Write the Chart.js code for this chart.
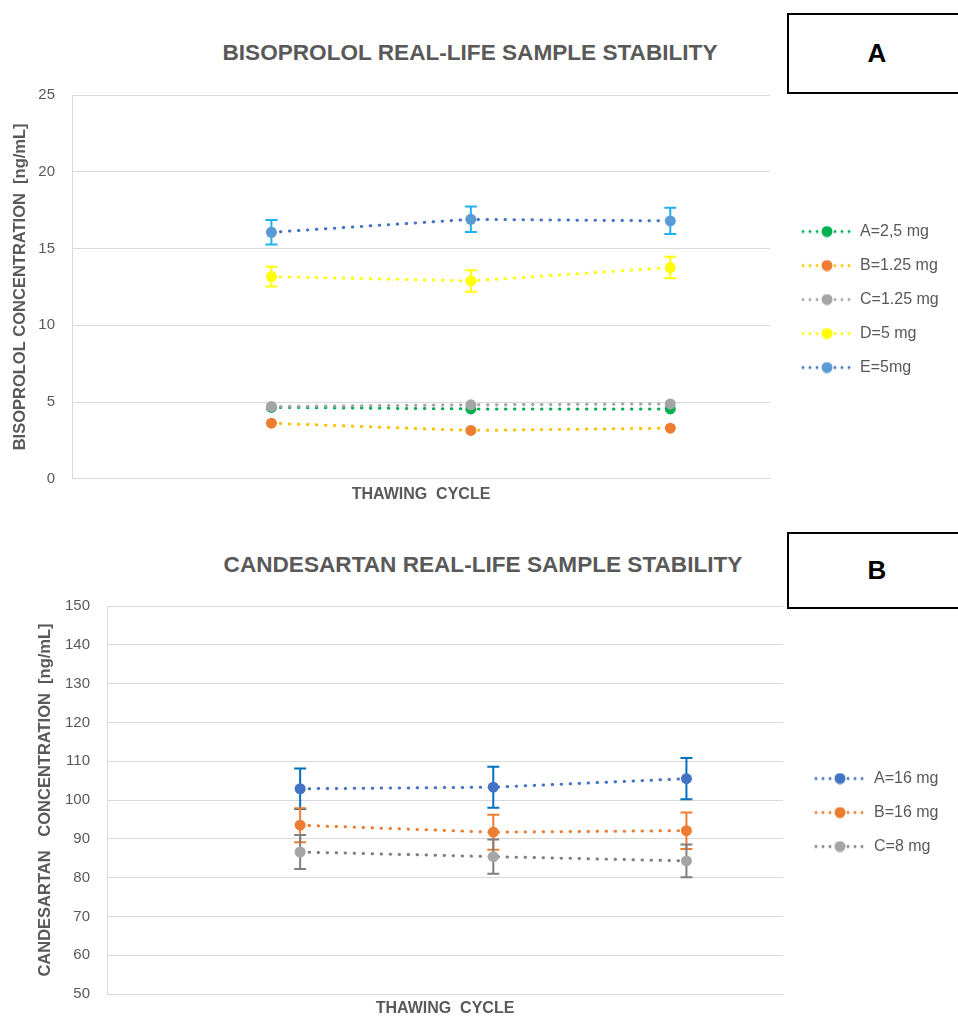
<!DOCTYPE html>
<html>
<head>
<meta charset="utf-8">
<script src="https://cdn.jsdelivr.net/npm/chart.js@4/dist/chart.umd.min.js"></script>
<style>
  body { margin: 0; background: #fff; }
  #wrap { position: relative; width: 958px; height: 1018px; overflow: hidden; }
  .title { position: absolute; width: 700px; text-align: center;
           font: bold 22.6px "Liberation Sans Narrow", "Liberation Sans", sans-serif; color: #595959; }
  .tag { position: absolute; left: 787px; width: 180px; border: 2px solid #000; box-sizing: border-box;
         font: bold 26px "Liberation Sans Narrow", "Liberation Sans", sans-serif; color: #000;
         display: flex; align-items: center; justify-content: center; }
  canvas { position: absolute; left: 0; }
</style>
</head>
<body>
<div id="wrap">
  <div class="title" style="top:40px;left:120px">BISOPROLOL REAL-LIFE SAMPLE STABILITY</div>
  <div class="tag" style="top:13px;height:81px">A</div>
  <div class="title" style="top:552px;left:133px">CANDESARTAN REAL-LIFE SAMPLE STABILITY</div>
  <div class="tag" style="top:532px;height:77px">B</div>
  <div style="position:absolute;left:0;top:0;width:958px;height:506px"><canvas id="chartA"></canvas></div>
  <div style="position:absolute;left:0;top:520px;width:958px;height:500px"><canvas id="chartB"></canvas></div>
</div>
<script>
// 解凍循環 (x 位置)
const cycles = [1, 2, 3];

// Bisoprolol 數據
const bisoLabels = ['A=2,5 mg', 'B=1.25 mg', 'C=1.25 mg', 'D=5 mg', 'E=5mg'];
const bisoA = [4.65, 4.55, 4.55];
const bisoB = [3.62, 3.15, 3.3];
const bisoC = [4.71, 4.82, 4.88];
const bisoD = [13.17, 12.89, 13.76];
const bisoE = [16.06, 16.9, 16.8];
const bisoErrD = [0.65, 0.7, 0.7];
const bisoErrE = [0.8, 0.83, 0.85];

// Candesartan 數據
const candLabels = ['A=16 mg', 'B=16 mg', 'C=8 mg'];
const candA = [102.9, 103.3, 105.5];
const candB = [93.5, 91.7, 92.1];
const candC = [86.6, 85.4, 84.3];
const candErrA = [5.2, 5.3, 5.3];
const candErrB = [4.4, 4.5, 4.7];
const candErrC = [4.4, 4.4, 4.2];

const FONT = '"Liberation Sans", sans-serif';
const GREY = '#595959';
const GRID = '#d9d9d9';

// 誤差線
const errorBars = {
  id: 'errorBars',
  beforeDatasetDraw(chart, args) {
    const ds = chart.data.datasets[args.index];
    if (!ds.errors) return;
    const ctx = chart.ctx;
    const yScale = chart.scales.y;
    ctx.save();
    ctx.strokeStyle = ds.errorColor;
    ctx.lineWidth = 2;
    args.meta.data.forEach((pt, i) => {
      const v = ds.data[i].y;
      const e = ds.errors[i];
      const top = yScale.getPixelForValue(v + e);
      const bot = yScale.getPixelForValue(v - e);
      ctx.beginPath();
      ctx.moveTo(pt.x, top); ctx.lineTo(pt.x, bot);
      ctx.moveTo(pt.x - 6, top); ctx.lineTo(pt.x + 6, top);
      ctx.moveTo(pt.x - 6, bot); ctx.lineTo(pt.x + 6, bot);
      ctx.stroke();
    });
    ctx.restore();
  }
};

// 固定圖例寬度
const legendWidth = {
  id: 'legendWidth',
  beforeLayout(chart, args, opts) {
    const lg = chart.legend;
    if (!lg || lg._fixedWidth) return;
    const fit = lg.fit;
    lg.fit = function () { fit.call(this); this.width = opts.width; };
    lg._fixedWidth = true;
  }
};

// 圖例圖示：虛線 + 圓點
function makeIcon(ds, boxW) {
  const c = document.createElement('canvas');
  c.width = boxW; c.height = 12;
  const g = c.getContext('2d');
  const x0 = 14;
  g.fillStyle = ds.borderColor;
  [1, 8, 15, 33, 40, 47].forEach(x => { g.beginPath(); g.arc(x0 + x, 6, 1.5, 0, Math.PI * 2); g.fill(); });
  g.fillStyle = ds.pointBackgroundColor;
  g.beginPath(); g.arc(x0 + 25, 6, 5.5, 0, Math.PI * 2); g.fill();
  return c;
}

function makeSet(label, vals, line, point, order, errs, errColor) {
  return {
    label: label,
    data: cycles.map((c, i) => ({ x: c, y: vals[i] })),
    borderColor: line,
    borderWidth: 3,
    borderDash: [0.5, 8.5],
    borderCapStyle: 'round',
    pointRadius: 5.5,
    pointBackgroundColor: point,
    pointBorderColor: point,
    pointBorderWidth: 0,
    fill: false,
    tension: 0,
    order: order,
    errors: errs,
    errorColor: errColor
  };
}

function buildOptions(yMin, yMax, step, yTitle, yWidth, titlePad, lgWidth, boxW, padTop, xPadTop, padBottom) {
  return {
    responsive: true,
    maintainAspectRatio: false,
    animation: false,
    layout: { padding: { top: padTop, right: 0, bottom: padBottom, left: 0 } },
    plugins: {
      tooltip: { enabled: false },
      legendWidth: { width: lgWidth },
      legend: {
        position: 'right',
        labels: {
          usePointStyle: true,
          pointStyleWidth: boxW,
          padding: 18,
          color: GREY,
          font: { family: FONT, size: 16 },
          generateLabels: chart => chart.data.datasets.map((ds, i) => ({
            text: ds.label,
            pointStyle: makeIcon(ds, boxW),
            fontColor: GREY,
            fillStyle: 'transparent',
            strokeStyle: 'transparent',
            lineWidth: 0,
            hidden: false,
            datasetIndex: i
          }))
        }
      }
    },
    scales: {
      x: {
        type: 'linear', min: 0, max: 3.5,
        grid: { display: false, drawTicks: false, tickLength: 0 },
        border: { display: true, color: GRID, width: 1 },
        ticks: { display: false, padding: 0 },
        title: { display: true, text: 'THAWING  CYCLE', color: GREY,
                 font: { family: FONT, size: 16, weight: 'bold' }, padding: { top: xPadTop, bottom: 0 } }
      },
      y: {
        min: yMin, max: yMax,
        ticks: { stepSize: step, color: GREY, padding: 17, font: { family: FONT, size: 15 } },
        grid: { color: GRID, drawTicks: false },
        border: { display: true, color: GRID },
        title: { display: true, text: yTitle, color: GREY,
                 font: { family: FONT, size: 16.5, weight: 'bold' }, padding: { top: titlePad, bottom: 0 } },
        afterFit: scale => { scale.width = yWidth; }
      }
    }
  };
}

const cfgA = {
  type: 'line',
  data: {
    datasets: [
      makeSet(bisoLabels[0], bisoA, '#00B050', '#00B050', 5),
      makeSet(bisoLabels[1], bisoB, '#FFC000', '#ED7D31', 4),
      makeSet(bisoLabels[2], bisoC, '#A5A5A5', '#A5A5A5', 3),
      makeSet(bisoLabels[3], bisoD, '#FFFF00', '#FFFF00', 2, bisoErrD, '#FFFF00'),
      makeSet(bisoLabels[4], bisoE, '#4472C4', '#5B9BD5', 1, bisoErrE, '#1FB1EE')
    ]
  },
  options: buildOptions(0, 25, 5, 'BISOPROLOL CONCENTRATION  [ng/mL]', 72, 11, 188, 64, 95, 6, 2),
  plugins: [errorBars, legendWidth]
};

const cfgB = {
  type: 'line',
  data: {
    datasets: [
      makeSet(candLabels[0], candA, '#4472C4', '#4472C4', 3, candErrA, '#0070C0'),
      makeSet(candLabels[1], candB, '#ED7D31', '#ED7D31', 2, candErrB, '#ED7D31'),
      makeSet(candLabels[2], candC, '#7F7F7F', '#A5A5A5', 1, candErrC, '#7F7F7F')
    ]
  },
  options: buildOptions(50, 150, 10, 'CANDESARTAN   CONCENTRATION  [ng/mL]', 107, 36, 175, 65, 86, 5, 1),
  plugins: [errorBars, legendWidth]
};

new Chart(document.getElementById('chartA'), cfgA);
new Chart(document.getElementById('chartB'), cfgB);
</script>
</body>
</html>
